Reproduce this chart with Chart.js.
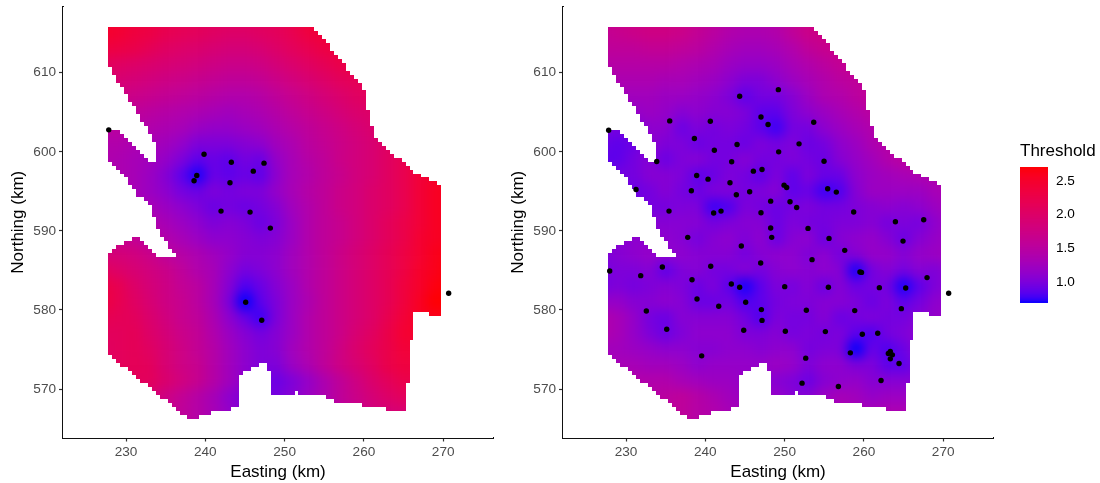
<!DOCTYPE html>
<html>
<head>
<meta charset="utf-8">
<script src="https://cdn.jsdelivr.net/npm/chart.js@4"></script>
<style>
    html, body { margin: 0; background: #fff; }
    .box { position: absolute; }
</style>
</head>
<body>
<div class="box" style="left:0;top:0;width:500px;height:483px"><canvas id="leftChart"></canvas></div>
<div class="box" style="left:500px;top:0;width:500px;height:483px"><canvas id="rightChart"></canvas></div>
<div class="box" style="left:1020px;top:141px;width:80px;height:170px"><canvas id="legendChart"></canvas></div>
<script>
// tick labels
const xTicks = [230, 240, 250, 260, 270];
const yTicks = [570, 580, 590, 600, 610];
const legendTicks = [1.0, 1.5, 2.0, 2.5];

// centres of the 2 km cells of the threshold tables
const gridEastings = [227, 229, 231, 233, 235, 237, 239, 241, 243, 245, 247, 249, 251, 253, 255, 257, 259, 261, 263, 265, 267, 269, 271];
const gridNorthings = [617, 615, 613, 611, 609, 607, 605, 603, 601, 599, 597, 595, 593, 591, 589, 587, 585, 583, 581, 579, 577, 575, 573, 571, 569, 567, 565];

// threshold
const leftValues = [
    [2.5,2.45,2.4,2.3,2.25,2.2,2.15,2.1,2.1,2.1,2.1,2.15,2.25,2.4,2.5,2.5,2.5,2.5,2.5,2.5,2.5,2.5,2.5],
    [2.5,2.45,2.35,2.3,2.2,2.15,2.1,2.05,2,2,2.05,2.1,2.2,2.35,2.4,2.4,2.4,2.4,2.4,2.4,2.4,2.4,2.4],
    [2.35,2.3,2.25,2.15,2.05,2,1.95,1.9,1.85,1.85,1.9,2,2.1,2.2,2.3,2.35,2.35,2.35,2.35,2.35,2.35,2.35,2.35],
    [2.1,2.05,2,1.95,1.9,1.85,1.8,1.75,1.7,1.7,1.75,1.85,1.95,2.05,2.15,2.25,2.3,2.3,2.3,2.3,2.3,2.3,2.3],
    [1.95,1.9,1.85,1.8,1.75,1.7,1.65,1.6,1.55,1.55,1.6,1.7,1.8,1.9,2,2.1,2.15,2.2,2.2,2.2,2.2,2.2,2.2],
    [1.8,1.75,1.7,1.65,1.6,1.55,1.5,1.45,1.4,1.4,1.45,1.55,1.65,1.75,1.85,1.95,2.05,2.1,2.15,2.15,2.15,2.15,2.15],
    [1.65,1.6,1.55,1.5,1.45,1.4,1.35,1.3,1.25,1.3,1.35,1.45,1.55,1.65,1.75,1.85,1.95,2,2.1,2.1,2.1,2.1,2.1],
    [1.5,1.5,1.45,1.4,1.35,1.3,1.2,1.15,1.15,1.2,1.25,1.35,1.45,1.55,1.65,1.75,1.85,1.95,2.05,2.1,2.1,2.1,2.1],
    [1.4,1.4,1.35,1.3,1.25,1.15,1,1,1,1.05,1.1,1.25,1.35,1.5,1.6,1.7,1.8,1.9,2.05,2.15,2.2,2.2,2.2],
    [1.4,1.35,1.3,1.25,1.15,1,.85,.9,.85,.95,.9,1.15,1.3,1.45,1.55,1.7,1.8,1.9,2.05,2.2,2.4,2.5,2.5],
    [1.4,1.35,1.3,1.2,1.05,.85,.7,.9,.85,.9,.85,1.1,1.3,1.4,1.55,1.65,1.8,1.9,2.05,2.2,2.4,2.5,2.6],
    [1.45,1.4,1.3,1.2,1.1,.95,.9,1,.95,1,1,1.15,1.3,1.45,1.55,1.7,1.8,1.95,2.05,2.2,2.4,2.55,2.6],
    [1.5,1.45,1.35,1.3,1.2,1.1,1,.9,.95,.9,.95,1.05,1.25,1.4,1.55,1.7,1.8,1.95,2.05,2.2,2.4,2.55,2.6],
    [1.55,1.55,1.5,1.4,1.3,1.2,1.1,1,1.05,1,.9,1,1.2,1.4,1.55,1.65,1.8,1.95,2.1,2.25,2.4,2.55,2.6],
    [1.7,1.65,1.6,1.5,1.4,1.3,1.2,1.1,1.1,1.05,1,1.05,1.2,1.4,1.55,1.65,1.8,1.95,2.1,2.25,2.45,2.55,2.6],
    [1.85,1.85,1.8,1.7,1.55,1.45,1.35,1.25,1.15,1.05,1.05,1.1,1.25,1.4,1.55,1.7,1.85,2,2.15,2.3,2.45,2.6,2.65],
    [2.1,2,1.9,1.8,1.7,1.55,1.4,1.3,1.1,.95,1,1.1,1.25,1.4,1.55,1.7,1.85,2,2.15,2.3,2.5,2.6,2.7],
    [2.3,2.2,2,1.85,1.75,1.6,1.5,1.3,1.05,.8,.9,1.05,1.2,1.4,1.55,1.7,1.85,2,2.15,2.35,2.5,2.65,2.7],
    [2.35,2.2,2.05,1.9,1.75,1.65,1.5,1.3,1,.65,.85,1,1.2,1.35,1.55,1.7,1.85,2,2.15,2.35,2.55,2.7,2.7],
    [2.2,2.15,2.1,1.95,1.8,1.65,1.55,1.35,1.1,.9,.75,1,1.2,1.4,1.55,1.7,1.85,2,2.2,2.4,2.55,2.6,2.6],
    [2.1,2.1,2.15,2,1.85,1.7,1.6,1.4,1.2,1.05,.95,1.05,1.2,1.4,1.55,1.7,1.9,2.05,2.25,2.45,2.5,2.5,2.5],
    [2.05,2.1,2.15,2.05,1.9,1.75,1.6,1.45,1.25,1.1,1,1.05,1.25,1.4,1.55,1.75,1.95,2.1,2.25,2.4,2.4,2.4,2.4],
    [2.05,2.1,2.15,2.1,1.9,1.75,1.65,1.45,1.25,1.1,1,1,1.2,1.35,1.55,1.75,1.9,2.05,2.25,2.35,2.35,2.35,2.35],
    [2.05,2.1,2.1,2.1,1.95,1.8,1.65,1.45,1.25,1.1,1,.9,1,1.15,1.35,1.55,1.75,1.95,2.1,2.25,2.25,2.25,2.25],
    [2,2,2,1.9,1.75,1.6,1.45,1.3,1.1,1,.95,.95,1.05,1.2,1.35,1.55,1.7,1.85,2,2.1,2.1,2.1,2.1],
    [2,2,1.9,1.8,1.7,1.55,1.45,1.3,1.15,1,.95,.95,1.05,1.2,1.35,1.5,1.65,1.8,1.85,1.9,1.9,1.9,1.9],
    [2,2,1.9,1.8,1.7,1.55,1.45,1.3,1.15,1,.95,.95,1.05,1.2,1.35,1.5,1.65,1.8,1.85,1.9,1.9,1.9,1.9]
];

// threshold
const rightValues = [
    [1.65,1.7,1.75,1.8,1.8,1.75,1.65,1.55,1.45,1.4,1.4,1.45,1.6,1.75,1.8,1.8,1.8,1.8,1.8,1.8,1.8,1.8,1.8],
    [1.6,1.65,1.7,1.75,1.75,1.7,1.6,1.5,1.4,1.35,1.35,1.4,1.55,1.7,1.75,1.75,1.75,1.75,1.75,1.75,1.75,1.75,1.75],
    [1.55,1.55,1.55,1.6,1.6,1.55,1.5,1.4,1.3,1.25,1.25,1.3,1.4,1.55,1.65,1.7,1.7,1.7,1.7,1.7,1.7,1.7,1.7],
    [1.45,1.45,1.45,1.45,1.45,1.4,1.35,1.3,1.2,1.15,1.15,1.2,1.3,1.4,1.5,1.6,1.65,1.65,1.65,1.65,1.65,1.65,1.65],
    [1.35,1.35,1.35,1.35,1.3,1.3,1.25,1.2,1.1,1,1,1.1,1.2,1.3,1.4,1.5,1.55,1.6,1.6,1.6,1.6,1.6,1.6],
    [1.25,1.25,1.25,1.25,1.2,1.2,1.15,1.1,1,.85,.95,.95,1.05,1.2,1.35,1.4,1.5,1.6,1.6,1.6,1.6,1.6,1.6],
    [1.1,1.1,1.15,1.2,1.15,1.05,1.1,1.05,1.05,1,.85,.85,1,1.1,1.2,1.3,1.4,1.5,1.55,1.55,1.55,1.55,1.55],
    [1,.95,1,1.1,1.1,.9,1,.95,1,.95,.85,.75,.95,.95,1.1,1.2,1.3,1.4,1.5,1.55,1.55,1.55,1.55],
    [.9,.85,.9,1.1,1,1,.9,.95,.95,.9,1,.95,1,.9,.95,1.1,1.2,1.35,1.45,1.55,1.6,1.6,1.6],
    [.85,.85,.95,1.05,.9,1,1.05,.95,.95,1.05,.95,.95,1,.95,.9,1.05,1.15,1.25,1.4,1.5,1.6,1.6,1.6],
    [.9,.95,.95,1.05,1.05,1,.85,.9,1,.95,.85,1,.85,1,.9,.9,1.1,1.2,1.25,1.3,1.35,1.4,1.4],
    [1,1,.9,.95,1.05,.95,.9,1,1,.95,1,1.05,.85,.9,.75,.8,1.05,1.2,1.2,1.2,1.2,1.3,1.35],
    [1.05,1.05,1,.95,.95,1,1,.75,.8,1,.95,.9,.95,1,.95,.95,1,1.05,1.1,1.05,1.1,1.2,1.3],
    [1.1,1.1,1.05,1.05,1.05,1.05,1.05,.95,1,1.05,1.05,.9,1,.95,.95,1,1,1.05,.95,1,.95,1.1,1.25],
    [1.05,1.05,1.1,1.1,1.1,1.05,.95,1.05,1.1,1,1.1,.9,1.05,1.1,.9,1.05,1.1,1.15,1.05,.9,1.05,1.15,1.25],
    [1,1.05,1.1,1.15,1.1,1.1,1.05,1.05,1.05,.95,1.05,1.1,1.1,1,1.1,.95,1.05,1.15,1.15,1.05,1.15,1.2,1.25],
    [.95,1,1,1.05,.85,1,1.05,.95,.95,1.05,.95,1.05,1.1,1.05,1.1,1.05,.7,.95,1.05,.95,1.05,1,1.15],
    [.95,1,.95,1,1.05,1,.9,1,.85,.7,.85,1,.95,1.05,.9,1.05,.9,.95,.95,.7,.85,1,1.1],
    [1.15,1.15,1.05,1.05,1.1,1.05,.9,.9,.95,.8,.85,.95,1,1,1.05,1.05,1,.9,1,.85,.95,1.1,1.15],
    [1.4,1.3,1.15,.95,.9,1.05,1.05,1.05,1.05,.95,.8,1,.95,.95,1.05,.9,.95,1,.95,.95,1.05,1.15,1.15],
    [1.4,1.3,1.15,1,.9,1,1.1,1.1,1.1,1,1,1.05,.95,1,.95,1,.85,.8,.95,1,1.1,1.1,1.1],
    [1.25,1.25,1.2,1.15,1.1,1.1,1.05,1.05,1.1,1.1,1.05,1.1,1.1,.95,1,1,.65,.9,.8,.9,1.1,1.1,1.1],
    [1.3,1.3,1.3,1.25,1.25,1.2,1.1,1.15,1.15,1.15,1.15,1.2,1.15,1,1.1,1.1,1,1,.85,.85,1,1,1],
    [1.4,1.4,1.4,1.4,1.4,1.3,1.25,1.2,1.2,1.15,1.1,1.05,1,.9,1.05,1.1,1.15,1.05,1.05,1.05,1.05,1.05,1.05],
    [1.45,1.45,1.45,1.45,1.5,1.55,1.45,1.35,1.25,1.2,1.15,1.15,1.05,1.05,1.2,1.3,1.25,1.15,1.2,1.2,1.2,1.2,1.2],
    [1.5,1.5,1.5,1.5,1.5,1.55,1.45,1.4,1.3,1.25,1.2,1.2,1.15,1.15,1.25,1.3,1.3,1.3,1.35,1.35,1.35,1.35,1.35],
    [1.5,1.5,1.5,1.5,1.5,1.55,1.45,1.4,1.3,1.25,1.2,1.2,1.15,1.15,1.25,1.3,1.3,1.3,1.35,1.35,1.35,1.35,1.35]
];

// rows of the 0.5 km survey grid: northing, then first and last easting of each run
const surveyRows = [
    [615.5,228,253.5],[615,228,254],[614.5,228,254.5],[614,228,255],[613.5,228,255.5],[613,228,255.5],
    [612.5,228,256],[612,228,256.5],[611.5,228,257],[611,228,257.5],[610.5,228.5,257.5],[610,228.5,258],
    [609.5,229,258.5],[609,229,259],[608.5,229.5,259.5],[608,230,259.5],[607.5,230,260],[607,230.5,260],
    [606.5,230.5,260],[606,231,260],[605.5,231.5,260],[605,231.5,260.5],[604.5,232,260.5],[604,232,260.5],
    [603.5,232.5,260.5],[603,233,261],[602.5,228,229,233,261],[602,228,229.5,233.5,261],
    [601.5,228,230,233.5,261.5],[601,228,230.5,234,262],[600.5,228,231,234,262.5],[600,228,231.5,234,263],
    [599.5,228,232,234,263.5],[599,228,232.5,234,264.5],[598.5,228.5,265],[598,229,265.5],[597.5,229.5,266],
    [597,230,267],[596.5,230.5,268],[596,230.5,269],[595.5,231,269.5],[595,231.5,269.5],[594.5,231.5,269.5],
    [594,232.5,269.5],[593.5,233,269.5],[593,233.5,269.5],[592.5,233.5,269.5],[592,233.5,269.5],
    [591.5,234,269.5],[591,234,269.5],[590.5,234,269.5],[590,234.5,269.5],[589.5,234.5,269.5],
    [589,231,231.5,235,269.5],[588.5,230,232,235.5,269.5],[588,229,232.5,235.5,269.5],
    [587.5,228.5,233,236,269.5],[587,228,233.5,236.5,269.5],
    [586.5,228,269.5],[586,228,269.5],[585.5,228,269.5],[585,228,269.5],[584.5,228,269.5],[584,228,269.5],
    [583.5,228,269.5],[583,228,269.5],[582.5,228,269.5],[582,228,269.5],[581.5,228,269.5],[581,228,269.5],
    [580.5,228,269.5],[580,228,269.5],[579.5,228,266,268.5,269.5],[579,228,266],[578.5,228,266],[578,228,266],
    [577.5,228,266],[577,228,266],[576.5,228,266],[576,228,265.5],[575.5,228,265.5],[575,228,265.5],
    [574.5,228,265.5],[574,228.5,265.5],[573.5,229,265.5],[573,229.5,246.5,248,265.5],[572.5,230.5,245.5,248,265.5],
    [572,231,244.5,248.5,265.5],[571.5,231.5,244,248.5,265.5],[571,232,244,248.5,265.5],[570.5,233,244,248.5,265],
    [570,233.5,244,248.5,265],[569.5,234,244,248.5,251,252,265],[569,234.5,244,255.5,265],[568.5,235.5,244,256.5,265],
    [568,236,244,260,265],[567.5,236.5,243,263,265],[567,237,240.5],[566.5,238,239]
];

// sampling sites
const leftSites = [
    [227.82,602.77],[239.84,599.69],[243.28,598.68],[247.4,598.56],[246.05,597.55],[238.92,597],[238.58,596.33],
    [243.11,596.08],[241.98,592.5],[245.64,592.37],[248.2,590.35],[270.69,582.11],[245.09,580.98],[247.11,578.7]
];
const rightSites = [
    [244.33,607.01],[249.21,607.85],[235.51,603.9],[240.63,603.86],[247.02,604.4],[247.91,603.44],[227.81,602.72],
    [238.62,601.67],[241.14,600.2],[244,600.91],[249.25,599.99],[233.87,598.77],[243.32,598.73],[246.06,597.55],
    [247.15,597.76],[238.91,597],[240.34,596.54],[243.11,596.08],[231.26,595.23],[238.24,595.07],[243.91,594.56],
    [245.59,594.94],[248.24,593.76],[235.42,592.5],[241.05,592.25],[241.98,592.5],[247.02,592.29],[248.24,590.36],
    [253.67,603.73],[251.82,601],[254.97,598.81],[249.93,595.78],[250.26,595.49],[255.43,595.32],[256.52,594.9],
    [250.68,593.68],[251.52,592.96],[258.71,592.38],[263.97,591.16],[267.54,591.41],[252.95,590.31],
    [237.78,589.18],[248.37,589.18],[244.54,588.08],[246.98,585.94],[234.58,585.43],[240.68,585.52],[231.85,584.34],
    [238.32,583.83],[227.94,584.93],[243.28,583.29],[244.33,582.87],[238.95,581.39],[245.09,580.97],[241.69,580.47],
    [247.07,580.05],[232.56,579.88],[247.15,578.68],[235.13,577.57],[244.84,577.44],[239.54,574.2],
    [255.6,589.05],[264.93,588.71],[257.58,587.54],[253.46,586.36],[259.5,584.8],[259.7,584.75],[267.96,584.09],
    [250.01,582.95],[255.52,582.87],[261.95,582.82],[265.27,582.78],[270.69,582.11],[252.74,579.96],[258.84,579.92],
    [264.72,580.17],[250.09,577.31],[255.14,577.27],[259.8,576.94],[261.74,577.06],[258.29,574.58],
    [263.33,574.75],[263.08,574.5],[263.59,574.33],[263.33,573.82],[264.43,573.23],[252.66,573.91],[262.16,571.09],
    [252.2,570.75],[256.78,570.33]
];

// the fill scale runs from blue to red through Lab, like the legend
const scaleMin = 0.689;
const scaleMax = 2.707;
let fillColor = (v) => {
    let t = Math.min(1, Math.max(0, (v - scaleMin) / (scaleMax - scaleMin)));
    let L = 32.3 + t * (53.24 - 32.3);
    let A = 79.19 + t * (80.09 - 79.19);
    let B = -107.86 + t * (67.2 + 107.86);
    let fy = (L + 16) / 116;
    let inv = (f) => f > 0.2069 ? f * f * f : (f - 16 / 116) / 7.787;
    let X = 0.95047 * inv(fy + A / 500);
    let Y = inv(fy);
    let Z = 1.08883 * inv(fy - B / 200);
    let rgb = [
        3.2406 * X - 1.5372 * Y - 0.4986 * Z,
        -0.9689 * X + 1.8758 * Y + 0.0415 * Z,
        0.0557 * X - 0.204 * Y + 1.057 * Z
    ].map(c => {
        c = Math.min(1, Math.max(0, c));
        c = c <= 0.0031308 ? 12.92 * c : 1.055 * Math.pow(c, 1 / 2.4) - 0.055;
        return Math.round(c * 255);
    });
    return `rgb(${rgb[0]},${rgb[1]},${rgb[2]})`;
};

// blurs the cells into a surface and keeps only the surveyed grid
const surveyMask = {
    id: 'surveyMask',
    afterDatasetDraw(chart, args) {
        if (args.index !== 0) return;
        const ctx = chart.ctx;
        const { x, y } = chart.scales;
        const area = chart.chartArea;

        let copy = document.createElement('canvas');
        copy.width = chart.canvas.width;
        copy.height = chart.canvas.height;
        copy.getContext('2d').drawImage(chart.canvas, 0, 0);

        ctx.save();
        ctx.clearRect(area.left, area.top, area.width, area.height);
        ctx.beginPath();
        surveyRows.forEach(row => {
            let top = Math.round(y.getPixelForValue(row[0] + 0.25));
            let bottom = Math.round(y.getPixelForValue(row[0] - 0.25));
            for (let i = 1; i < row.length; i += 2) {
                let left = Math.round(x.getPixelForValue(row[i] - 0.25));
                let right = Math.round(x.getPixelForValue(row[i + 1] + 0.25));
                ctx.rect(left, top, right - left, bottom - top);
            }
        });
        ctx.clip();
        ctx.filter = 'blur(6px)';
        ctx.drawImage(copy, 0, 0);
        ctx.restore();
    }
};

// chart.js leaves room for half a tick label past the axis ends, not wanted here
let noLabelPadding = (s) => {
    s.paddingTop = 0;
    s.paddingBottom = 0;
    s.paddingLeft = 0;
    s.paddingRight = 0;
};

let plotMap = (id, values, sites) => {
    const ctx = document.getElementById(id);

    let cells = [];
    let colors = [];
    gridNorthings.forEach((n, i) => {
        gridEastings.forEach((e, j) => {
            cells.push({ x: e, y: n });
            colors.push(fillColor(values[i][j]));
        });
    });

    const axisTitle = (text, pad) => ({
        display: true,
        text: text,
        color: '#000',
        font: { family: 'Liberation Sans', size: 17 },
        padding: { top: pad, bottom: 0 }
    });
    const grid = { drawOnChartArea: false, tickLength: 4, tickWidth: 1.2, tickColor: '#333' };
    const border = { color: '#111', width: 2 };
    const tickFont = { family: 'Liberation Sans', size: 13.6 };

    new Chart(ctx, {
        type: 'scatter',
        data: {
            datasets: [
                { data: cells, pointStyle: 'rect', pointRadius: 11.6, borderWidth: 0, pointBackgroundColor: colors, order: 2 },
                { data: sites.map(s => ({ x: s[0], y: s[1] })), pointRadius: 2.7, borderWidth: 0, pointBackgroundColor: '#000', order: 1, clip: false }
            ]
        },
        options: {
            responsive: true,
            maintainAspectRatio: false,
            animation: false,
            layout: { autoPadding: false, padding: { top: 7, right: 7 } },
            plugins: { legend: { display: false }, tooltip: { enabled: false } },
            scales: {
                x: {
                    z: 1,
                    grid: grid,
                    border: border,
                    type: 'linear',
                    min: 222.05,
                    max: 276.28,
                    afterBuildTicks: (s) => { s.ticks = xTicks.map(v => ({ value: v })); },
                    afterFit: (s) => { s.height = 45.5; noLabelPadding(s); },
                    ticks: { color: '#4d4d4d', font: tickFont, padding: 3, maxRotation: 0 },
                    title: axisTitle('Easting (km)', 3)
                },
                y: {
                    z: 1,
                    grid: grid,
                    border: border,
                    type: 'linear',
                    min: 563.88,
                    max: 618.3,
                    afterBuildTicks: (s) => { s.ticks = yTicks.map(v => ({ value: v })); },
                    afterFit: (s) => { s.width = 63; noLabelPadding(s); },
                    ticks: { color: '#4d4d4d', font: tickFont, padding: 3 },
                    title: axisTitle('Northing (km)', 8)
                }
            }
        },
        plugins: [surveyMask]
    });
};

let plotLegend = () => {
    const ctx = document.getElementById('legendChart');

    // one floating bar per 0.02 step of the colour bar
    let steps = [];
    for (let v = scaleMin; v < scaleMax; v += 0.02) steps.push(v);

    new Chart(ctx, {
        type: 'bar',
        data: {
            labels: ['Threshold'],
            datasets: steps.map(v => ({
                data: [[v, v + 0.025]],
                backgroundColor: fillColor(v + 0.01),
                barPercentage: 1,
                categoryPercentage: 1,
                grouped: false
            }))
        },
        options: {
            responsive: true,
            maintainAspectRatio: false,
            animation: false,
            layout: { padding: { bottom: 8 } },
            plugins: {
                legend: { display: false },
                tooltip: { enabled: false },
                title: {
                    display: true,
                    text: 'Threshold',
                    align: 'start',
                    color: '#000',
                    font: { family: 'Liberation Sans', size: 17, weight: 'normal' },
                    padding: { top: 0, bottom: 5.6 }
                }
            },
            scales: {
                x: { display: false },
                y: {
                    position: 'right',
                    min: scaleMin,
                    max: scaleMax,
                    z: 1,
                    afterBuildTicks: (s) => { s.ticks = legendTicks.map(v => ({ value: v })); },
                    afterFit: (s) => { s.width = 52; noLabelPadding(s); },
                    grid: { color: 'rgba(255,255,255,0.85)', lineWidth: 1, drawTicks: false },
                    border: { display: false, dash: [5.6, 16.8] },
                    ticks: {
                        color: '#000',
                        font: { family: 'Liberation Sans', size: 13.6 },
                        padding: 8,
                        callback: (v) => v.toFixed(1)
                    }
                }
            }
        }
    });
};

plotMap('leftChart', leftValues, leftSites);
plotMap('rightChart', rightValues, rightSites);
plotLegend();
</script>
</body>
</html>
